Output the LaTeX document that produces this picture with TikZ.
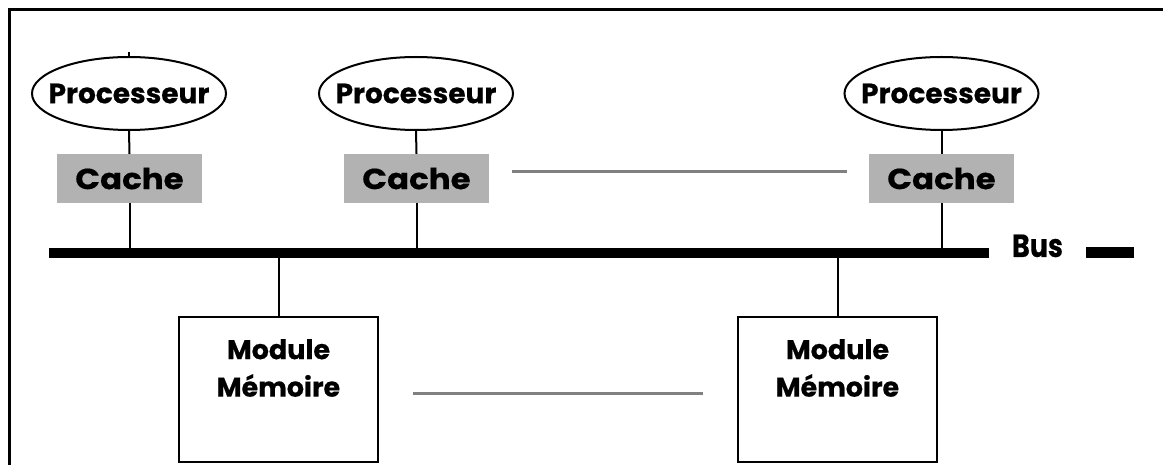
\documentclass[tikz,border=0pt]{standalone}
\usepackage{fontspec}
\setmainfont{Poppins}[BoldFeatures={FakeBold=0.5}]
\newfontfamily\widesans{Poppins}[FakeStretch=1.12, BoldFeatures={FakeBold=0.5}]
\newfontfamily\narrowsans{Poppins}[FakeStretch=0.84, BoldFeatures={FakeBold=0.5}]
\usetikzlibrary{shapes.geometric}
\definecolor{cachefill}{RGB}{178,178,178}
\definecolor{linkgray}{RGB}{128,128,128}
\tikzset{
  proc/.style={ellipse, draw, line width=2pt, minimum width=194pt, minimum height=73pt,
    inner sep=0pt},
  proctext/.style={inner sep=0pt, font=\fontsize{28}{31}\selectfont\bfseries},
  cachebox/.style={rectangle, fill=cachefill, minimum width=145pt, minimum height=49pt,
    inner sep=0pt, font=\widesans\fontsize{29}{32}\selectfont\bfseries},
  membox/.style={rectangle, draw, line width=2.6pt, minimum width=199pt, minimum height=145pt,
    inner sep=0pt},
  memtext/.style={align=center, inner sep=0pt, font=\fontsize{27}{37.5}\selectfont\bfseries},
  wire/.style={line width=2pt},
  buswire/.style={line width=10.5pt},
  etc/.style={line width=3pt, color=linkgray},
}
\begin{document}
\begin{tikzpicture}[x=1pt, y=-1pt]
\useasboundingbox (0,0) rectangle (1163,465);
% outer frame (top and left edges)
\draw[line width=3pt] (9,465) -- (9,10) -- (1163,10);

% processors
\node[proc, label={[proctext]center:Processeur}] (p1) at (129,93.5) {};
\node[proc, label={[proctext]center:Processeur}] (p2) at (416,93.5) {};
\node[proc, label={[proctext]center:Processeur}] (p3) at (941.5,93.5) {};

% caches
\node[cachebox] (c1) at (129.5,178.5) {Cache};
\node[cachebox] (c2) at (416.5,178.5) {Cache};
\node[cachebox] (c3) at (941.5,178.5) {Cache};

% bus
\coordinate (busL) at (49,252.8);
\coordinate (busR) at (989,252.8);
\draw[buswire] (busL) -- (busR);
\node[inner sep=0pt, anchor=base, font=\narrowsans\fontsize{32}{36}\selectfont\bfseries] (buslbl) at (1037.5,257) {Bus};
\coordinate (dashL) at (1086,252.5);
\coordinate (dashR) at (1134,252.5);
\draw[line width=11pt] (dashL) -- (dashR);

% memory modules
\node[membox] (m1) at (278.5,389.5) {};
\node[membox] (m2) at (837.5,389.5) {};
\node[memtext] (t1) at (278.5,368) {Module\\Mémoire};
\node[memtext] (t2) at (837.5,368) {Module\\Mémoire};

% links
\draw[wire] (p1.north) -- ++(0,-3.5);
\foreach \i in {1,2,3}{
  \draw[wire] (p\i.south) -- (c\i.north);
  \draw[wire] (c\i.south) -- (c\i.south |- busL);
}
\draw[wire] (m1.north) -- (m1.north |- busL);
\draw[wire] (m2.north) -- (m2.north |- busL);

% ellipsis lines
\coordinate (g1a) at (512,172);
\coordinate (g1b) at (847,172);
\coordinate (g2a) at (413,393);
\coordinate (g2b) at (703,393);
\draw[etc] (g1a) -- (g1b);
\draw[etc] (g2a) -- (g2b);
\end{tikzpicture}
\end{document}
